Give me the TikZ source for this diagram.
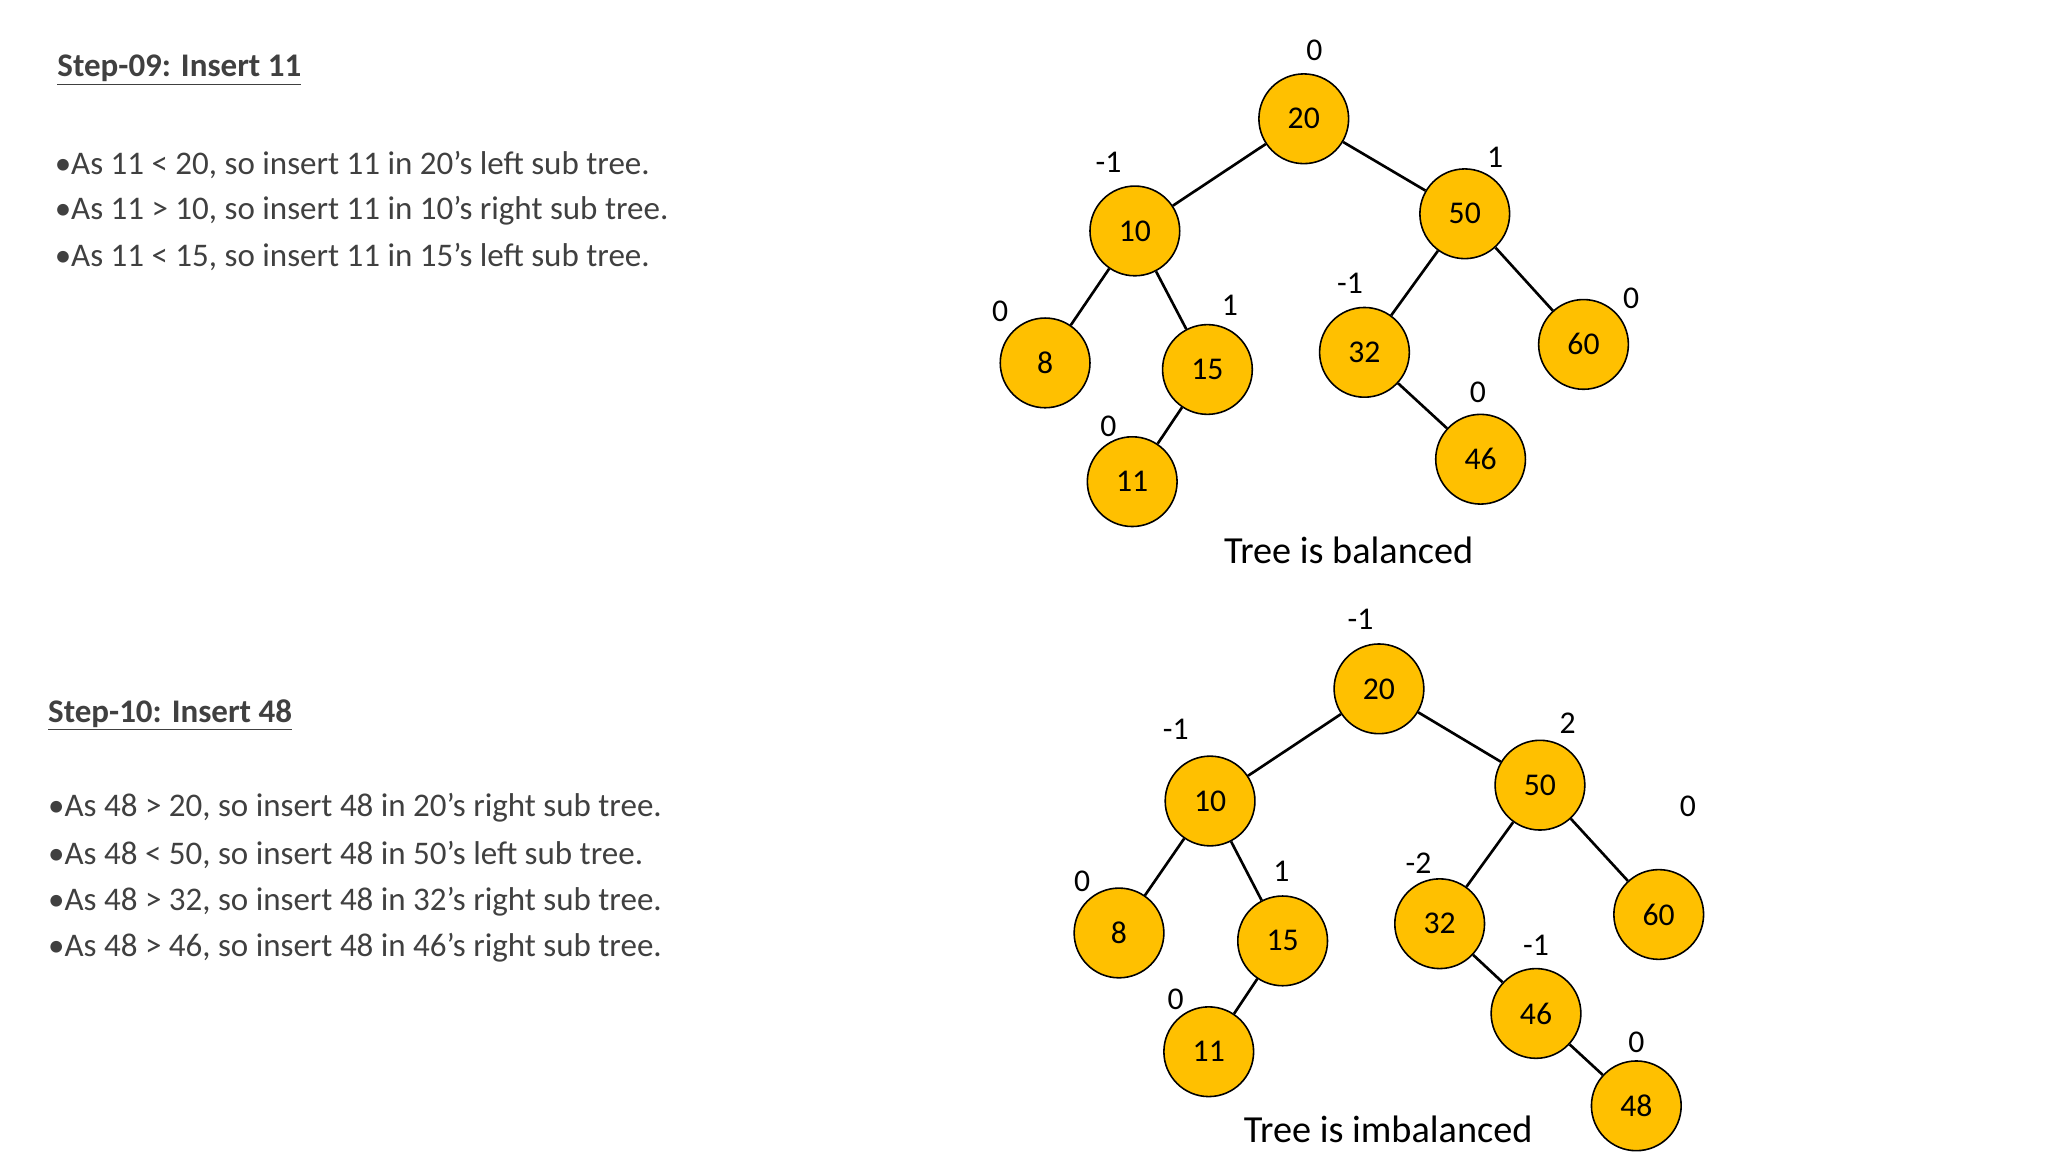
\documentclass[tikz,border=0pt]{standalone}
\usepackage{fontspec}
\setmainfont{Carlito}
\definecolor{txt}{HTML}{404040}
\definecolor{nodeor}{HTML}{FFC000}
\begin{document}
\begin{tikzpicture}[x=1pt,y=-1pt,
  tn/.style={circle,draw=black,line width=1.2pt,fill=nodeor,minimum size=68pt,inner sep=0pt,font=\fontsize{24}{28}\selectfont},
  bal/.style={font=\fontsize{24}{28}\selectfont},
  ed/.style={line width=2pt},
  body/.style={anchor=west,text=txt,font=\fontsize{25}{30}\selectfont}]
\useasboundingbox (0,0) rectangle (1552,873);
% text
\node[body] (h1) at (40,53) {\textbf{\underline{Step-09: Insert 11}}};
\node[body] (a1) at (38,125) {•As 11 < 20, so insert 11 in 20’s left sub tree.};
\node[body] (a2) at (38,160) {•As 11 > 10, so insert 11 in 10’s right sub tree.};
\node[body] (a3) at (38,195) {•As 11 < 15, so insert 11 in 15’s left sub tree.};
\node[body] (h2) at (33,542) {\textbf{\underline{Step-10: Insert 48}}};
\node[body] (b1) at (33,612) {•As 48 > 20, so insert 48 in 20’s right sub tree.};
\node[body] (b2) at (33,648) {•As 48 < 50, so insert 48 in 50’s left sub tree.};
\node[body] (b3) at (33,683) {•As 48 > 32, so insert 48 in 32’s right sub tree.};
\node[body] (b4) at (33,718) {•As 48 > 46, so insert 48 in 46’s right sub tree.};
% tree 1
\node[tn] (p20) at (988,90) {20};
\node[tn] (p10) at (860,175) {10};
\node[tn] (p50) at (1110,162) {50};
\node[tn] (p8) at (792,275) {8};
\node[tn] (p15) at (915,280) {15};
\node[tn] (p32) at (1034,267) {32};
\node[tn] (p60) at (1200,261) {60};
\node[tn] (p11) at (858,365) {11};
\node[tn] (p46) at (1122,348) {46};
\draw[ed] (p20)--(p10); \draw[ed] (p20)--(p50);
\draw[ed] (p10)--(p8); \draw[ed] (p10)--(p15);
\draw[ed] (p15)--(p11);
\draw[ed] (p50)--(p32); \draw[ed] (p50)--(p60);
\draw[ed] (p32)--(p46);
\node[bal] (l1) at (996,38) {0};
\node[bal] (l2) at (840,123) {-1};
\node[bal] (l3) at (1133,119) {1};
\node[bal] (l4) at (758,236) {0};
\node[bal] (l5) at (932,231) {1};
\node[bal] (l6) at (1023,215) {-1};
\node[bal] (l7) at (1236,226) {0};
\node[bal] (l8) at (840,323) {0};
\node[bal] (l9) at (1120,297) {0};
\node[font=\fontsize{29}{34}\selectfont] (c1) at (1022,417) {Tree is balanced};
% tree 2
\node[tn] (q20) at (1045,522) {20};
\node[tn] (q10) at (917,607) {10};
\node[tn] (q50) at (1167,595) {50};
\node[tn] (q8) at (848,707) {8};
\node[tn] (q15) at (972,713) {15};
\node[tn] (q32) at (1091,700) {32};
\node[tn] (q60) at (1257,693) {60};
\node[tn] (q11) at (916,797) {11};
\node[tn] (q46) at (1164,768) {46};
\node[tn] (q48) at (1240,838) {48};
\draw[ed] (q20)--(q10); \draw[ed] (q20)--(q50);
\draw[ed] (q10)--(q8); \draw[ed] (q10)--(q15);
\draw[ed] (q15)--(q11);
\draw[ed] (q50)--(q32); \draw[ed] (q50)--(q60);
\draw[ed] (q32)--(q46); \draw[ed] (q46)--(q48);
\node[bal] (m1) at (1031,469) {-1};
\node[bal] (m2) at (891,553) {-1};
\node[bal] (m3) at (1188,548) {2};
\node[bal] (m4) at (1279,611) {0};
\node[bal] (m5) at (820,668) {0};
\node[bal] (m6) at (971,660) {1};
\node[bal] (m7) at (1075,654) {-2};
\node[bal] (m8) at (1164,716) {-1};
\node[bal] (m9) at (891,757) {0};
\node[bal] (m10) at (1240,790) {0};
\node[font=\fontsize{29}{34}\selectfont] (c2) at (1052,856) {Tree is imbalanced};
\end{tikzpicture}
\end{document}
